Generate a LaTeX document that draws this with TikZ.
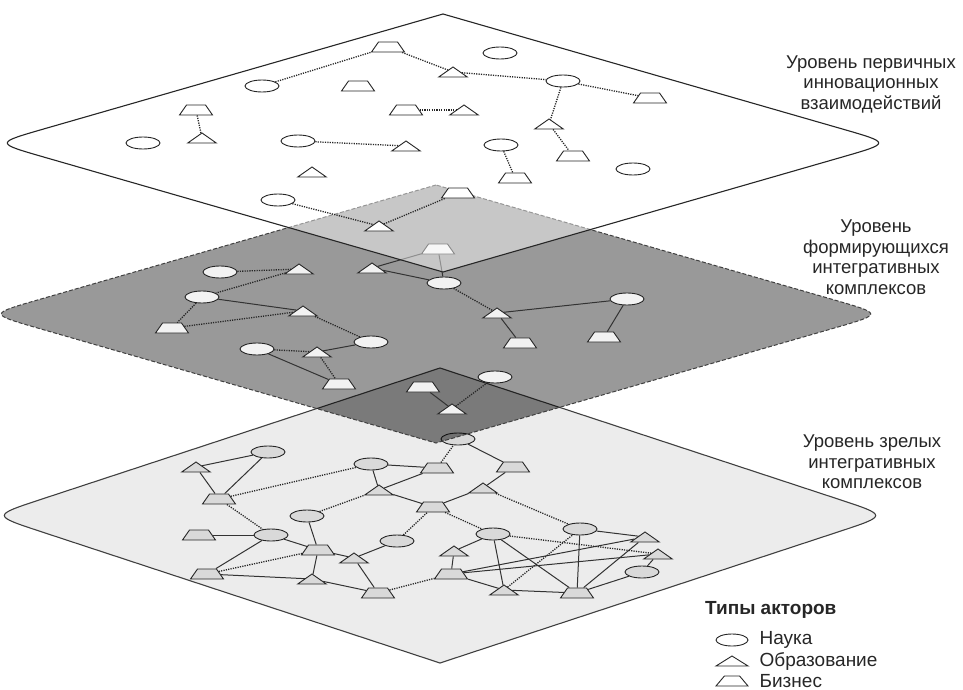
\documentclass[tikz,border=0pt]{standalone}
\usepackage{fontspec}
\setmainfont{Liberation Sans}
\usepackage{tikz}
\usetikzlibrary{shapes.geometric,positioning}

% plane with sharp top/bottom and rounded left/right corners: centre x, centre y, half width, half height
\newcommand{\plane}[4]{(#1,{#2-#4}) -- ({#1-0.89*#3},{#2-0.11*#4}) .. controls ({#1-#3},#2) .. ({#1-0.89*#3},{#2+0.11*#4}) -- (#1,{#2+#4}) -- ({#1+0.89*#3},{#2+0.11*#4}) .. controls ({#1+#3},#2) .. ({#1+0.89*#3},{#2-0.11*#4}) -- cycle}

\begin{document}
\begin{tikzpicture}[x=1pt, y=-1pt,
    actor/.style={draw=black!85, line width=0.9pt},
    nauka/.style={actor, ellipse, inner sep=0pt, minimum width=34pt, minimum height=12pt},
    obraz/.style={actor, trapezium, trapezium left angle=35, trapezium right angle=35,
      trapezium stretches body, inner xsep=0pt, inner ysep=5pt, minimum width=28pt},
    biznes/.style={actor, trapezium, trapezium left angle=55, trapezium right angle=55,
      trapezium stretches body, inner xsep=0pt, inner ysep=5pt, minimum width=33pt},
    strong/.style={draw=black!80, line width=1pt},
    weak/.style={draw=black!85, line width=1.3pt, dash pattern=on 1.2pt off 1.2pt},
    levtext/.style={align=center, text=black!85, font=\fontsize{18.5}{20.5}\selectfont},
    legtext/.style={text=black!85, inner sep=1pt, font=\fontsize{19}{21}\selectfont}]
  \useasboundingbox (0,0) rectangle (963,690);

  % Bottom level: mature complexes
  \draw[fill=gray!15, draw=black!75, line width=1.1pt] \plane{440}{515.5}{448}{147.5};
  \foreach \n/\x/\y in {c1/268/452, c2/371/464, c3/307/516, c4/271/535, c5/397/541,
      c6/458/439, c7/493/534, c8/580/529, c9/642/572}
    \node[nauka, fill=gray!30] (\n) at (\x,\y) {};
  \foreach \n/\x/\y in {c10/196/467, c11/379/490, c12/312/579, c13/354/558, c14/483/488,
      c15/454/551, c16/504/590, c17/645/537, c18/658/554}
    \node[obraz, fill=gray!30] (\n) at (\x,\y) {};
  \foreach \n/\x/\y in {c19/219/499, c20/437/468, c21/433/507, c22/199/535, c23/318/550,
      c24/207/574, c25/378/593, c26/513/467, c27/451/574, c28/577/593}
    \node[biznes, fill=gray!30] (\n) at (\x,\y) {};
  \foreach \p/\q in {c1/c10, c1/c19, c10/c19, c22/c4, c4/c24, c4/c23, c24/c12, c3/c23,
      c23/c12, c23/c13, c12/c25, c13/c5, c13/c25, c2/c20, c2/c11, c11/c20, c11/c21,
      c21/c14, c6/c26, c26/c14, c7/c15, c7/c16, c7/c28, c15/c27, c27/c17, c27/c18,
      c27/c16, c16/c28, c8/c17, c8/c28, c28/c17, c28/c9, c18/c9}
    \draw[strong] (\p) -- (\q);
  \foreach \p/\q in {c19/c2, c19/c4, c24/c23, c3/c11, c5/c21, c25/c27, c20/c6, c14/c8,
      c21/c7, c7/c18, c16/c8}
    \draw[weak] (\p) -- (\q);

  % Middle level: forming complexes
  \fill[black, opacity=0.4] \plane{436}{314}{447}{129};
  \begin{scope}
    \clip \plane{440}{515.5}{448}{147.5};
    \fill[black, opacity=0.13] \plane{436}{314}{447}{129};
  \end{scope}
  \draw[black!75, line width=1pt, dash pattern=on 4pt off 2pt] \plane{436}{314}{447}{129};
  \foreach \n/\x/\y in {m1/220/272, m2/202/297, m3/371/342, m4/257/349, m5/444/283,
      m6/627/299, m7/495/377}
    \node[nauka, fill=black!5] (\n) at (\x,\y) {};
  \foreach \n/\x/\y in {m8/299/269, m9/303/311, m10/317/352, m11/372/268, m12/497/313,
      m13/452/409}
    \node[obraz, fill=black!5] (\n) at (\x,\y) {};
  \foreach \n/\x/\y in {m14/172/328, m15/339/384, m16/438/249, m17/520/343, m18/604/337,
      m19/423/387}
    \node[biznes, fill=black!5] (\n) at (\x,\y) {};
  \foreach \p/\q in {m2/m9, m3/m10, m4/m15, m11/m5, m11/m16, m16/m5, m12/m6, m12/m17,
      m6/m18, m19/m13}
    \draw[strong] (\p) -- (\q);
  \foreach \p/\q in {m1/m8, m8/m2, m2/m14, m14/m9, m9/m3, m4/m10, m10/m15, m5/m12, m13/m7}
    \draw[weak] (\p) -- (\q);

  % Top level: primary interactions
  \fill[white, opacity=0.45] \plane{443}{143}{448}{129};
  \draw[black!85, line width=1.1pt] \plane{443}{143}{448}{129};
  \foreach \n/\x/\y in {t1/262/86, t2/143/143, t3/298/141, t4/278/200, t5/500/53,
      t6/563/81, t7/501/145, t8/633/169}
    \node[nauka, fill=white] (\n) at (\x,\y) {};
  \foreach \n/\x/\y in {t9/453/72, t10/464/110, t11/202/138, t12/406/146, t13/312/172,
      t14/379/226, t15/549/124}
    \node[obraz, fill=white] (\n) at (\x,\y) {};
  \foreach \n/\x/\y in {t16/388/47, t17/358/86, t18/406/110, t19/196/110, t20/458/193,
      t21/650/98, t22/573/156, t23/515/178}
    \node[biznes, fill=white] (\n) at (\x,\y) {};
  \foreach \p/\q in {t1/t16, t16/t9, t9/t6, t6/t21, t6/t15, t15/t22, t7/t23, t18/t10,
      t19/t11, t3/t12, t4/t14, t14/t20}
    \draw[weak] (\p) -- (\q);

  % Level names
  \node[levtext] (lev1) at (871,84) {Уровень первичных\\инновационных\\взаимодействий};
  \node[levtext] (lev2) at (876,257) {Уровень\\формирующихся\\интегративных\\комплексов};
  \node[levtext] (lev3) at (872,462) {Уровень зрелых\\интегративных\\комплексов};

  % Legend
  \node[legtext, anchor=west, font=\fontsize{19}{21}\selectfont\bfseries] (legtitle) at (704,610) {Типы акторов};
  \node[nauka, fill=white, minimum width=32pt] (legS) at (732,640) {};
  \node[obraz, fill=white, minimum width=32pt, trapezium left angle=32, trapezium right angle=32] (legE) at (732,661) {};
  \node[biznes, fill=white, minimum width=32pt, trapezium left angle=50, trapezium right angle=50] (legB) at (732,681) {};
  \node[legtext, right=10pt of legS] (legSt) {Наука};
  \node[legtext, anchor=west] (legEt) at (legSt.west |- legE) {Образование};
  \node[legtext, anchor=west] (legBt) at (legSt.west |- legB) {Бизнес};
\end{tikzpicture}
\end{document}
